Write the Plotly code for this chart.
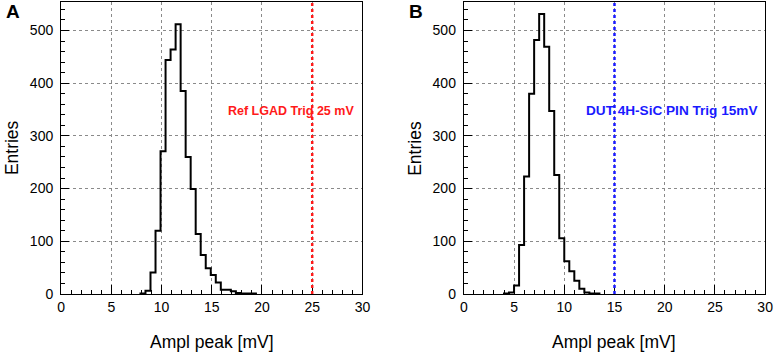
import plotly.graph_objects as go

# ---------------- data ----------------
bin_width = 0.5

a_bin_low = [7.9, 8.4, 8.9, 9.4, 9.9, 10.4, 10.9, 11.4, 11.9, 12.4, 12.9, 13.4,
             13.9, 14.4, 14.9, 15.4, 15.9, 16.4, 16.9, 17.4, 17.9, 18.4, 18.9]
a_counts = [1, 6, 41, 120, 271, 444, 464, 512, 385, 260, 199, 114,
            74, 49, 36, 22, 8, 8, 5, 2, 1, 1, 1]

b_bin_low = [4.0, 4.5, 5.0, 5.5, 6.0, 6.5, 7.0, 7.5, 8.0, 8.5, 9.0, 9.5,
             10.0, 10.5, 11.0, 11.5, 12.0, 12.5, 13.0]
b_counts = [1, 3, 16, 93, 223, 380, 482, 531, 469, 347, 226, 106,
            62, 43, 25, 10, 3, 1, 1]

trig_a = 25
trig_b = 15
label_a = "Ref LGAD Trig 25 mV"
label_b = "DUT 4H-SiC PIN Trig 15mV"
x_title = "Ampl peak [mV]"
y_title = "Entries"
x_tick_vals = [0, 5, 10, 15, 20, 25, 30]
y_tick_vals = [0, 100, 200, 300, 400, 500]
panel_letters = ["A", "B"]

FONT = "Liberation Sans, Arial, Helvetica, sans-serif"
W, H = 782, 353


def step_xy(lows, counts, w):
    xs = [lows[0]]
    ys = [0]
    for lo, c in zip(lows, counts):
        xs.append(lo)
        ys.append(c)
    xs.append(lows[-1] + w)
    ys.append(counts[-1])
    xs.append(lows[-1] + w)
    ys.append(0)
    return xs, ys


fig = go.Figure()

ax_a_x, ax_a_y = step_xy(a_bin_low, a_counts, bin_width)
ax_b_x, ax_b_y = step_xy(b_bin_low, b_counts, bin_width)

fig.add_trace(go.Scatter(x=ax_a_x, y=ax_a_y, mode="lines",
                         line=dict(color="black", width=2, shape="hv"),
                         xaxis="x", yaxis="y", showlegend=False, hoverinfo="skip"))
fig.add_trace(go.Scatter(x=ax_b_x, y=ax_b_y, mode="lines",
                         line=dict(color="black", width=2, shape="hv"),
                         xaxis="x2", yaxis="y2", showlegend=False, hoverinfo="skip"))

common_x = dict(range=[0, 30], tickvals=x_tick_vals, ticks="inside", ticklen=9,
                tickwidth=1, tickcolor="black",
                minor=dict(dtick=1, ticks="inside", ticklen=4, tickcolor="black", showgrid=False),
                showgrid=True, gridcolor="#8a8a8a", griddash="dot", gridwidth=1,
                zeroline=False, showline=True, linecolor="black", linewidth=1.2,
                mirror=True, tickfont=dict(family=FONT, size=14, color="black"),
                ticklabelstandoff=0)
common_y = dict(range=[0, 554], tickvals=y_tick_vals, ticks="inside", ticklen=8,
                tickwidth=1, tickcolor="black",
                minor=dict(dtick=20, ticks="inside", ticklen=4, tickcolor="black", showgrid=False),
                showgrid=True, gridcolor="#8a8a8a", griddash="dot", gridwidth=1,
                zeroline=False, showline=True, linecolor="black", linewidth=1.2,
                mirror=True, tickfont=dict(family=FONT, size=14, color="black"),
                ticklabelstandoff=4)

fig.update_layout(
    width=W, height=H,
    margin=dict(l=0, r=0, t=2, b=59),
    paper_bgcolor="white", plot_bgcolor="white",
    xaxis=dict(domain=[58 / W, 364 / W], anchor="y", **common_x),
    yaxis=dict(domain=[0, 1], anchor="x", **common_y),
    xaxis2=dict(domain=[467 / W, 773 / W], anchor="y2", **common_x),
    yaxis2=dict(domain=[0, 1], anchor="x2", **common_y),
    showlegend=False,
)

# trigger lines
fig.add_shape(type="line", xref="x", yref="y domain", x0=trig_a, x1=trig_a, y0=0, y1=1,
              line=dict(color="#ff1a1a", width=2.5, dash="dot"))
fig.add_shape(type="line", xref="x2", yref="y2 domain", x0=trig_b, x1=trig_b, y0=0, y1=1,
              line=dict(color="#1a1aff", width=2.5, dash="dot"))

annos = []
# trigger labels
annos.append(dict(x=22.85, y=348, xref="x", yref="y", text=f"<b>{label_a}</b>",
                  showarrow=False, font=dict(family=FONT, size=12.5, color="#ff1a1a"),
                  xanchor="center", yanchor="middle"))
annos.append(dict(x=20.65, y=348, xref="x2", yref="y2", text=f"<b>{label_b}</b>",
                  showarrow=False, font=dict(family=FONT, size=13.6, color="#1a1aff"),
                  xanchor="center", yanchor="middle"))

for xr, yr, letter in [("x", "y", panel_letters[0]), ("x2", "y2", panel_letters[1])]:
    annos.append(dict(x=0, y=0.5, xref=f"{xr} domain", yref=f"{yr} domain", text=y_title,
                      textangle=-90, showarrow=False, xshift=-49,
                      font=dict(family=FONT, size=17.5, color="black"),
                      xanchor="center", yanchor="middle"))
    annos.append(dict(x=0.5, y=0, xref=f"{xr} domain", yref=f"{yr} domain", text=x_title,
                      showarrow=False, yshift=-48,
                      font=dict(family=FONT, size=17.5, color="black"),
                      xanchor="center", yanchor="middle"))
    annos.append(dict(x=0, y=1, xref=f"{xr} domain", yref=f"{yr} domain",
                      text=f"<b>{letter}</b>", showarrow=False, xshift=-48, yshift=-9,
                      font=dict(family=FONT, size=19, color="black"),
                      xanchor="center", yanchor="middle"))

fig.update_layout(annotations=annos)

fig.write_html("out.html", config={"displayModeBar": False})

# remove the default page margin so the figure sits at the window origin
with open("out.html", "r", encoding="utf-8") as f:
    html = f.read()
html = html.replace("<head>", "<head><style>html,body{margin:0;padding:0;overflow:hidden;}</style>", 1)
with open("out.html", "w", encoding="utf-8") as f:
    f.write(html)
